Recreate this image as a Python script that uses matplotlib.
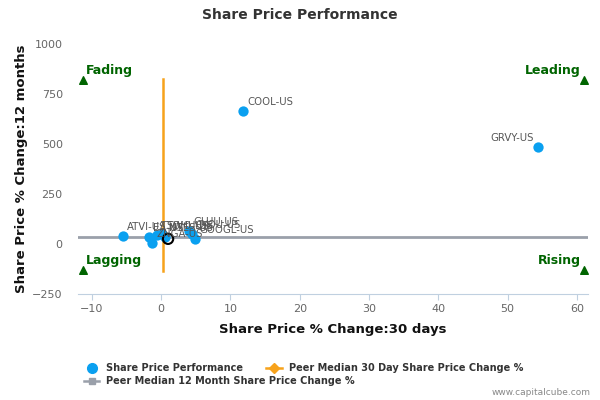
import matplotlib
matplotlib.use("Agg")
import matplotlib.pyplot as plt
from matplotlib.lines import Line2D

names = ["COOL-US", "GRVY-US", "ATVI-US", "EA-US", "ZNGA-US", "TTWO-US",
         "SOHU-US", "NTES-US", "GLUU-US", "CYOU-US", "GOOGL-US"]
x30 = [11.8, 54.4, -5.5, -1.8, -1.3, -0.6, 0.1, 0.6, 4.0, 4.4, 4.9]
y12 = [666, 486, 41, 36, 6, 46, 50, 36, 66, 51, 26]
label_left = [False, True, False, False, False, False, False, False, False, False, False]
subject_x = [1.0]
subject_y = [26]

peer_median_30 = 0.3
peer_median_12 = 36
orange_span = [-135, 825]

quad_names = ["Fading", "Leading", "Lagging", "Rising"]
quad_x = [-11.3, 61.0, -11.3, 61.0]
quad_y = [820, 820, -130, -130]

xticks = [-10, 0, 10, 20, 30, 40, 50, 60]
yticks = [-250, 0, 250, 500, 750, 1000]

fig = plt.figure(figsize=(6, 4), dpi=100)
ax = fig.add_axes([0.13, 0.265, 0.85, 0.625])
ax.set_xlim(-12, 61.6)
ax.set_ylim(-250, 1000)

blue = "#0aa0f0"
orange = "#f7a21b"
gray = "#9aa0aa"
green = "#006400"

ax.axhline(peer_median_12, color=gray, lw=2, zorder=1)
ax.plot([peer_median_30, peer_median_30], orange_span, color=orange, lw=1.8, zorder=2)

ax.scatter(x30, y12, s=55, color=blue, zorder=3, linewidths=0)
ax.scatter(subject_x, subject_y, s=55, facecolors="none", edgecolors="black",
           linewidths=1.5, zorder=3)

for n, x, y, left in zip(names, x30, y12, label_left):
    if left:
        ax.annotate(n, (x, y), xytext=(-3, 2.5), textcoords="offset points",
                    ha="right", va="bottom", fontsize=7.3, color="#555555", zorder=4)
    else:
        ax.annotate(n, (x, y), xytext=(3, 2.5), textcoords="offset points",
                    ha="left", va="bottom", fontsize=7.3, color="#555555", zorder=4)

for n, x, y in zip(quad_names, quad_x, quad_y):
    ax.scatter([x], [y], marker="^", s=30, color=green, zorder=4, clip_on=False)
    if x < 0:
        ax.annotate(n, (x, y), xytext=(2, 2), textcoords="offset points",
                    ha="left", va="bottom", fontsize=9, fontweight="bold",
                    color=green, annotation_clip=False)
    else:
        ax.annotate(n, (x, y), xytext=(-2, 2), textcoords="offset points",
                    ha="right", va="bottom", fontsize=9, fontweight="bold",
                    color=green, annotation_clip=False)

ax.set_xticks(xticks)
ax.set_yticks(yticks)
ax.tick_params(axis="x", colors="#666666", labelsize=8, length=4, color="#c0d0e0")
ax.tick_params(axis="y", colors="#666666", labelsize=8, length=0, pad=11)
for s in ["top", "right", "left"]:
    ax.spines[s].set_visible(False)
ax.spines["bottom"].set_color("#c0d0e0")

ax.set_xlabel("Share Price % Change:30 days", fontsize=9.5, fontweight="bold",
              color="#111111", labelpad=6)
ax.set_ylabel("Share Price % Change:12 months", fontsize=9.5, fontweight="bold",
              color="#111111", labelpad=3)

fig.text(0.5, 0.962, "Share Price Performance", ha="center", va="center",
         fontsize=10, fontweight="bold", color="#333333")

h1 = Line2D([], [], marker="o", color=blue, lw=0, markersize=7)
h2 = Line2D([], [], marker="D", color=orange, lw=1.8, markersize=5)
h3 = Line2D([], [], marker="s", color=gray, lw=1.8, markersize=5)
leg1 = fig.legend([h1, h2], ["Share Price Performance", "Peer Median 30 Day Share Price Change %"],
                  loc="center left", bbox_to_anchor=(0.125, 0.08), ncol=2, frameon=False,
                  prop={"size": 7, "weight": "bold"}, columnspacing=2.4,
                  handlelength=1.6, handletextpad=0.7)
for t in leg1.get_texts():
    t.set_color("#333333")
leg2 = fig.legend([h3], ["Peer Median 12 Month Share Price Change %"],
                  loc="center left", bbox_to_anchor=(0.125, 0.047), frameon=False,
                  prop={"size": 7, "weight": "bold"},
                  handlelength=1.6, handletextpad=0.7)
for t in leg2.get_texts():
    t.set_color("#333333")

fig.text(0.985, 0.018, "www.capitalcube.com", ha="right", va="center",
         fontsize=6.5, color="#888888")

fig.savefig("out.png", dpi=100)
